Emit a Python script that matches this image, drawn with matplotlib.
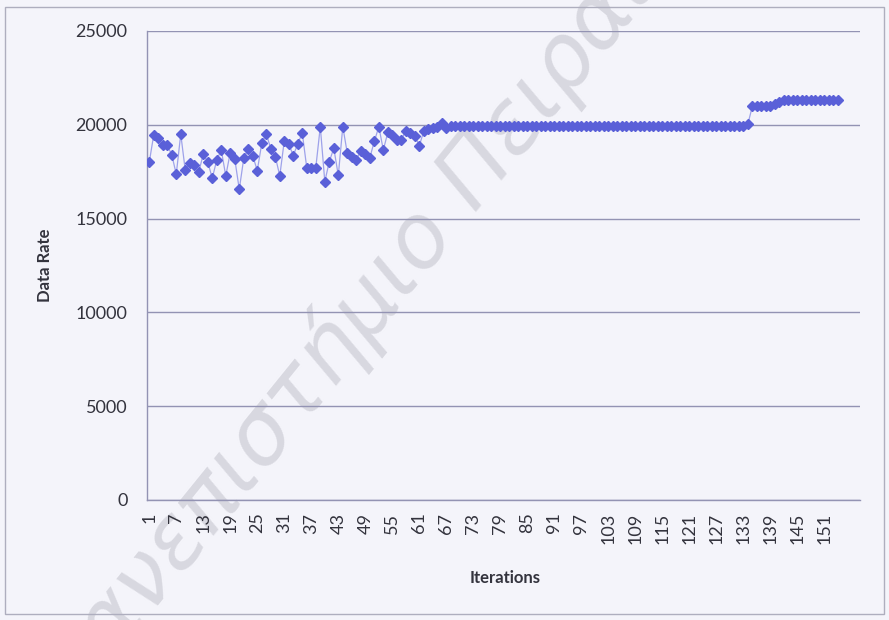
import matplotlib
matplotlib.use("Agg")
import matplotlib.pyplot as plt
from matplotlib.patches import Rectangle

# values (iterations 1..154)
iterations = list(range(1, 155))
data_rate = [
    18000, 19470, 19320, 18910, 18910, 18400, 17370, 19500, 17580, 17950,
    17850, 17490, 18430, 18020, 17150, 18130, 18650, 17280, 18520, 18170,
    16560, 18220, 18720, 18340, 17560, 19020, 19520, 18720, 18310, 17280,
    19150, 18980, 18360, 18990, 19560, 17690, 17690, 17720, 19900, 16970,
    18040, 18750, 17300, 19900, 18480, 18310, 18130, 18630, 18430, 18250,
    19110, 19900, 18660, 19590, 19460, 19200, 19200, 19690, 19550, 19410,
    18880, 19680, 19760, 19840, 19880, 20080, 19850, 19950, 19950, 19950,
    19950, 19950, 19950, 19950, 19950, 19950, 19950, 19950, 19950, 19950,
    19950, 19950, 19950, 19950, 19950, 19950, 19950, 19950, 19950, 19950,
    19950, 19950, 19950, 19950, 19950, 19950, 19950, 19950, 19950, 19950,
    19950, 19950, 19950, 19950, 19950, 19950, 19950, 19950, 19950, 19950,
    19950, 19950, 19950, 19950, 19950, 19950, 19950, 19950, 19950, 19950,
    19950, 19950, 19950, 19950, 19950, 19950, 19950, 19950, 19950, 19950,
    19950, 19950, 19950, 20050, 21000, 21000, 21000, 21000, 21000, 21100,
    21200, 21300, 21300, 21300, 21300, 21300, 21300, 21300, 21300, 21300,
    21300, 21300, 21300, 21300,
]
y_ticks = [0, 5000, 10000, 15000, 20000, 25000]
x_ticks = list(range(1, 155, 6))

paper = "#f4f4fa"
grid_col = "#9393b3"
text_col = "#33333d"

plt.rcParams["font.family"] = ["Lato", "DejaVu Sans"]

fig = plt.figure(figsize=(8.89, 6.2), dpi=100, facecolor=paper)

# faint university watermark behind the chart (cut by the page edges, as in the scan)
fig.text(384 / 889, 1 - 285 / 620, "Πανεπιστήμιο Πειραιώς", rotation=51,
         fontsize=64, style="italic", family="DejaVu Sans", color="#d8d8e0",
         ha="center", va="center", rotation_mode="anchor", zorder=-1)

# chart area border
fig.add_artist(Rectangle((5 / 889, 6 / 620), 879 / 889, 607 / 620,
                         transform=fig.transFigure, fill=False,
                         edgecolor="#aeaebe", lw=1))

ax = fig.add_axes([147 / 889, 1 - 500 / 620, 713 / 889, 469 / 620])
ax.set_facecolor("none")

ax.plot(iterations, data_rate, color="#9ea2ea", lw=0.9, zorder=3)
ax.plot(iterations, data_rate, ls="none", marker="D", markersize=4.6,
        color="#5a60d8", zorder=4)

ax.set_xlim(0.5, 158.9)
ax.set_ylim(0, 25000)
ax.set_yticks(y_ticks)
ax.set_xticks(x_ticks)
ax.set_xticklabels([str(t) for t in x_ticks], rotation=90, ha="center", va="top")
ax.yaxis.grid(True, color=grid_col, lw=1)
ax.set_axisbelow(True)

for side in ["top", "right"]:
    ax.spines[side].set_visible(False)
for side in ["left", "bottom"]:
    ax.spines[side].set_color(grid_col)
    ax.spines[side].set_linewidth(1)

ax.tick_params(axis="y", length=0, pad=14, labelsize=13, labelcolor=text_col)
ax.tick_params(axis="x", length=0, pad=9, labelsize=13, labelcolor=text_col)

fig.text(45 / 889, 1 - 265 / 620, "Data Rate", rotation=90, fontsize=12,
         fontweight="bold", color=text_col, ha="center", va="center")
fig.text(505 / 889, 1 - 578 / 620, "Iterations", fontsize=12,
         fontweight="bold", color=text_col, ha="center", va="center")

fig.savefig("out.png", dpi=100, facecolor=paper)
